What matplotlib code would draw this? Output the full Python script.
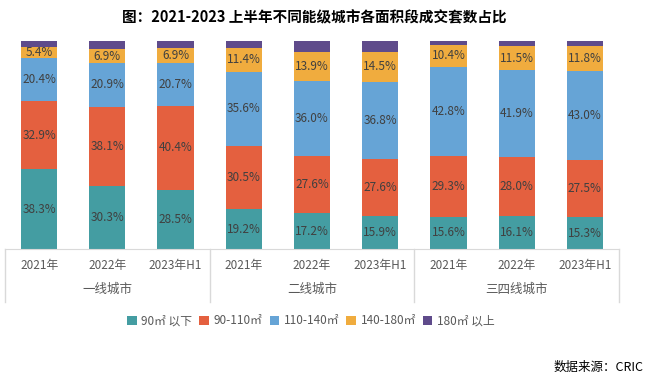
import numpy as np
import matplotlib
matplotlib.use("Agg")
import matplotlib.pyplot as plt
from matplotlib.transforms import blended_transform_factory

plt.rcParams['font.family'] = ['Noto Sans CJK SC', 'DejaVu Sans']

# data (share of transactions, %)
years = ['2021年', '2022年', '2023年H1'] * 3
groups = ['一线城市', '二线城市', '三四线城市']
series_names = ['90㎡ 以下', '90-110㎡', '110-140㎡', '140-180㎡', '180㎡ 以上']
s_below90 = [38.3, 30.3, 28.5, 19.2, 17.2, 15.9, 15.6, 16.1, 15.3]
s_90_110 = [32.9, 38.1, 40.4, 30.5, 27.6, 27.6, 29.3, 28.0, 27.5]
s_110_140 = [20.4, 20.9, 20.7, 35.6, 36.0, 36.8, 42.8, 41.9, 43.0]
s_140_180 = [5.4, 6.9, 6.9, 11.4, 13.9, 14.5, 10.4, 11.5, 11.8]
s_above180 = [3.0, 3.8, 3.5, 3.3, 5.3, 5.2, 1.9, 2.5, 2.4]

colors = ['#449DA2', '#E4603F', '#66A4D6', '#F0AC3E', '#5F4B8B']
series = [s_below90, s_90_110, s_110_140, s_140_180, s_above180]

fig = plt.figure(figsize=(6.5, 3.82), dpi=100)
ax = fig.add_axes([5 / 650, 1 - 249 / 382, 614 / 650, 208 / 382])

x = np.arange(len(years))
bottom = np.zeros(len(years))
for i, (name, vals, c) in enumerate(zip(series_names, series, colors)):
    vals = np.array(vals)
    ax.bar(x, vals, 0.53, bottom=bottom, color=c, label=name, zorder=2)
    if i < 4:
        for xi, b, v in zip(x, bottom, vals):
            ax.text(xi, b + v / 2, f'{v:.1f}%', ha='center', va='center',
                    fontsize=8.5, color='#404040')
    bottom += vals

ax.set_xlim(-0.5, 8.5)
ax.set_ylim(0, bottom.max())
ax.set_yticks([])
for s in ['top', 'right', 'left']:
    ax.spines[s].set_visible(False)
ax.spines['bottom'].set_color('#d9d9d9')
ax.set_xticks(x)
ax.set_xticklabels(years, fontsize=8.5, color='#595959')
ax.tick_params(axis='x', length=0, pad=7)

# group labels and separators
trans = blended_transform_factory(ax.transData, ax.transAxes)
for gi, g in enumerate(groups):
    ax.text(gi * 3 + 1, -0.195, g, transform=trans, ha='center', va='center',
            fontsize=9, color='#595959')
for sep in [-0.5, 2.5, 5.5, 8.5]:
    ax.plot([sep, sep], [0, -0.255], transform=trans, color='#d9d9d9',
            lw=1, clip_on=False)

fig.legend(loc='center', bbox_to_anchor=(311 / 650, 1 - 321 / 382), ncol=5,
           frameon=False, fontsize=8.5, handlelength=0.8, handleheight=0.8,
           handletextpad=0.4, columnspacing=0.6, labelcolor='#595959')

fig.text(314 / 650, 1 - 17 / 382, '图：2021-2023 上半年不同能级城市各面积段成交套数占比',
         ha='center', va='center', fontsize=10.5, fontweight='bold')
fig.text(644 / 650, 1 - 367 / 382, '数据来源：CRIC', ha='right', va='center',
         fontsize=9)

fig.savefig('out.png', dpi=100)
